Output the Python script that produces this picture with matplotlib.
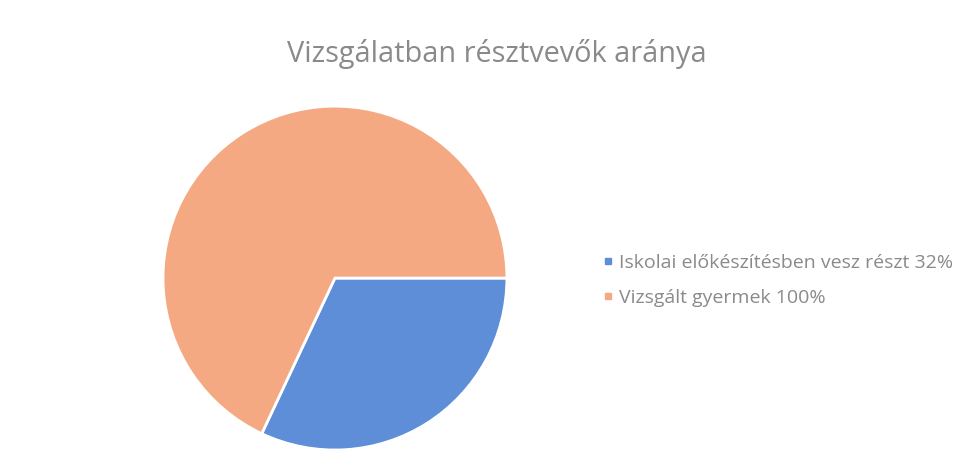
import matplotlib
matplotlib.use("Agg")
import matplotlib.pyplot as plt
from matplotlib.lines import Line2D

labels = ["Iskolai előkészítésben vesz részt 32%", "Vizsgált gyermek 100%"]
values = [32, 68]
colors = ["#5f8ed8", "#f5a983"]
title = "Vizsgálatban résztvevők aránya"

plt.rcParams['font.family'] = ['Open Sans', 'DejaVu Sans']

fig = plt.figure(figsize=(9.7, 4.73), dpi=100)
fig.patch.set_facecolor("white")

ax = fig.add_axes([0.168, 0.0486, 0.3546, 0.727])
ax.pie(values, colors=colors, startangle=0, counterclock=False,
       wedgeprops=dict(edgecolor="white", linewidth=2))
ax.set_xlim(-1.0, 1.0)
ax.set_ylim(-1.0, 1.0)
ax.set_aspect("equal")

fig.text(0.512, 0.886, title, ha="center", va="center", fontsize=20.8, color="#8a8a8a")

handles = [Line2D([], [], marker="s", linestyle="none", markersize=5,
                  markerfacecolor=c, markeredgecolor=c) for c in colors]
leg = fig.legend(handles, labels, loc="upper left", bbox_to_anchor=(0.604, 0.5),
                 frameon=False, fontsize=14, labelcolor="#8a8a8a",
                 handlelength=0.5, handletextpad=0.3, labelspacing=0.85)

fig.savefig("out.png", dpi=100, facecolor="white")
